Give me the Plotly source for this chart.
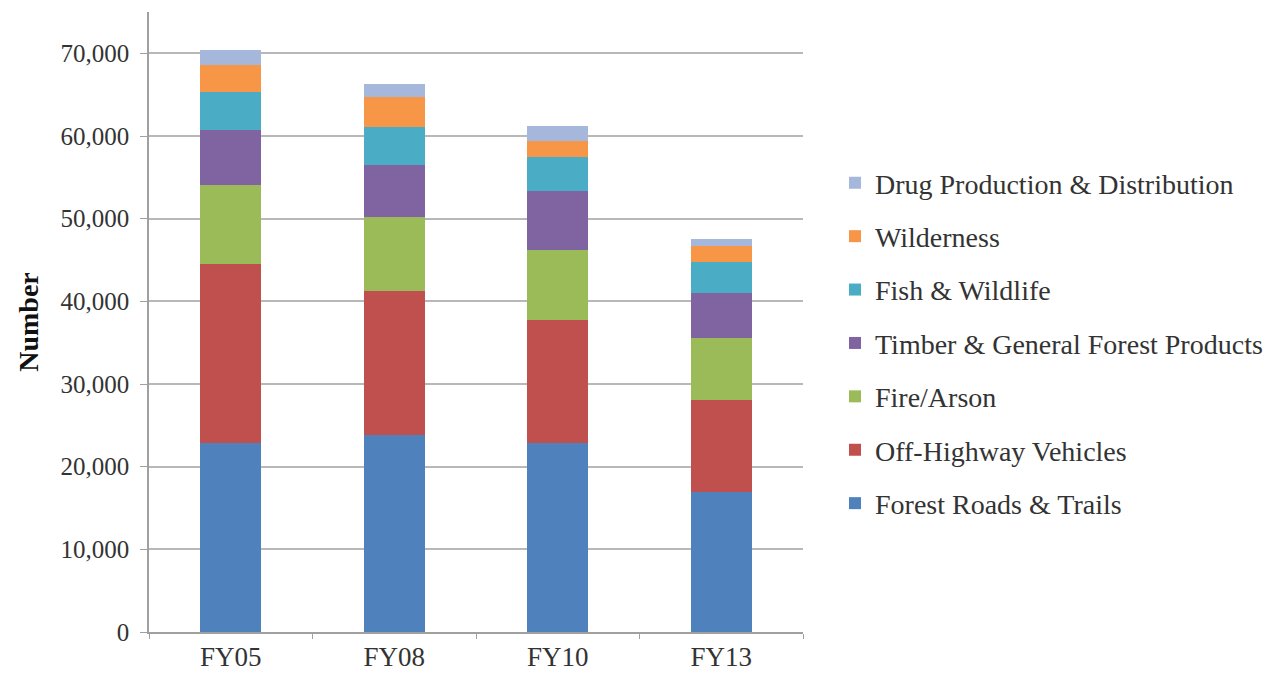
import plotly.graph_objects as go

categories = ["FY05", "FY08", "FY10", "FY13"]

forest_roads = [22840, 23850, 22840, 16950]
off_highway = [21670, 17450, 14850, 11140]
fire_arson = [9610, 8900, 8560, 7470]
timber = [6650, 6340, 7060, 5440]
fish_wildlife = [4520, 4560, 4110, 3710]
wilderness = [3350, 3590, 1940, 1940]
drug = [1820, 1650, 1810, 930]

series_names = [
    "Forest Roads & Trails",
    "Off-Highway Vehicles",
    "Fire/Arson",
    "Timber & General Forest Products",
    "Fish & Wildlife",
    "Wilderness",
    "Drug Production & Distribution",
]
series_values = [forest_roads, off_highway, fire_arson, timber, fish_wildlife, wilderness, drug]
series_colors = ["#4F81BD", "#C0504D", "#9BBB59", "#8064A2", "#4BACC6", "#F79646", "#A5B8DB"]

y_tick_values = [0, 10000, 20000, 30000, 40000, 50000, 60000, 70000]

fig = go.Figure()
for i, (name, vals, col) in enumerate(zip(series_names, series_values, series_colors)):
    fig.add_trace(go.Bar(
        x=categories, y=vals, name=name,
        marker=dict(color=col, line=dict(width=0)),
        legendgroup=f"g{i}",
        legendrank=1000 - i,
    ))

serif = "Liberation Serif, Times New Roman, serif"

fig.update_layout(
    width=1277, height=681,
    barmode="stack",
    bargap=0.625,
    plot_bgcolor="white",
    paper_bgcolor="white",
    margin=dict(l=141, r=482, t=4, b=57, autoexpand=False),
    font=dict(family=serif, color="#333333"),
    showlegend=True,
    legend=dict(
        xref="container", yref="container",
        x=0.6476, y=0.508, xanchor="left", yanchor="middle",
        traceorder="grouped",
        tracegroupgap=14,
        maxheight=640,
        font=dict(family=serif, size=28, color="#333333"),
        bgcolor="rgba(0,0,0,0)",
    ),
    xaxis=dict(
        showline=True, linecolor="#A0A0A0", linewidth=1.5,
        ticks="outside", tickson="boundaries", ticklen=5, tickcolor="#A0A0A0",
        tickfont=dict(family=serif, size=27, color="#333333"),
        showgrid=False,
    ),
    yaxis=dict(
        range=[0, 75000],
        tickvals=y_tick_values,
        tickformat=",",
        showline=True, linecolor="#A0A0A0", linewidth=1.5,
        ticks="outside", ticklen=7, tickcolor="#A0A0A0",
        ticklabelstandoff=6,
        showgrid=True, gridcolor="#B8B8B8", gridwidth=1.5,
        zeroline=False,
        tickfont=dict(family=serif, size=25, color="#333333"),
        title=dict(text="<b>Number</b>", font=dict(family=serif, size=28, color="#111111"), standoff=14),
    ),
)

fig.write_html("out.html")
